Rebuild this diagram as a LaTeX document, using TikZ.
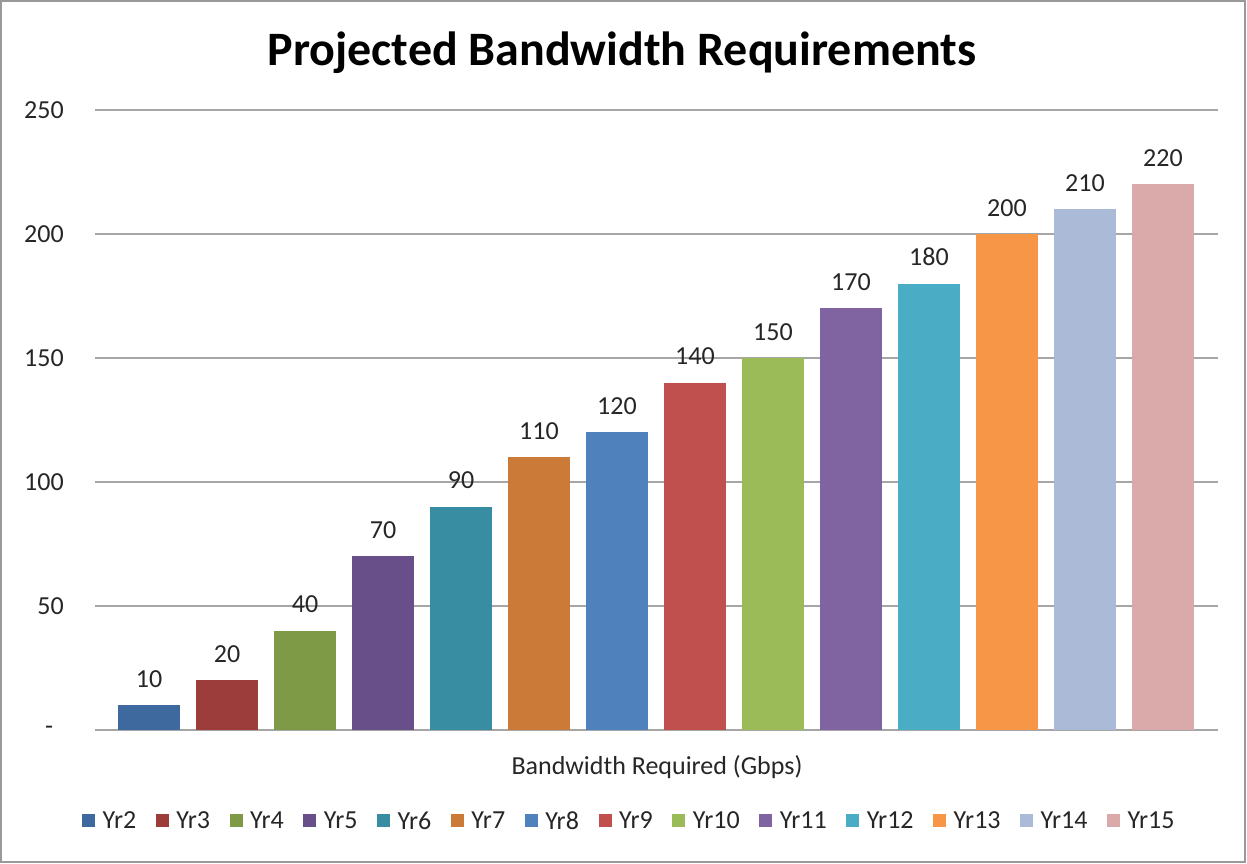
\documentclass[tikz,border=0pt]{standalone}
\usepackage{fontspec}
\setmainfont{Carlito}
\usetikzlibrary{positioning}

\definecolor{yr2}{HTML}{3D699E}
\definecolor{yr3}{HTML}{9D3D3B}
\definecolor{yr4}{HTML}{7E9A47}
\definecolor{yr5}{HTML}{694F89}
\definecolor{yr6}{HTML}{398DA3}
\definecolor{yr7}{HTML}{CC7A37}
\definecolor{yr8}{HTML}{4F81BD}
\definecolor{yr9}{HTML}{C0504D}
\definecolor{yr10}{HTML}{9BBB59}
\definecolor{yr11}{HTML}{8064A2}
\definecolor{yr12}{HTML}{4BACC6}
\definecolor{yr13}{HTML}{F79646}
\definecolor{yr14}{HTML}{AABAD7}
\definecolor{yr15}{HTML}{D9AAA9}

\begin{document}
\begin{tikzpicture}[
  x=0.75pt, y=-0.75pt,
  node distance=5.25pt and 14.25pt,
  every node/.style={font=\fontsize{19.5}{22}\selectfont, text=black!85, inner sep=0pt},
  gridline/.style={draw=black!35, line width=1.2pt},
  barval/.style={anchor=base},
  key/.style={minimum size=9.75pt, inner sep=0pt},
]
\useasboundingbox (0,0) rectangle (1247,864);
\draw[draw=black!40, line width=1.5pt] (1,1) rectangle (1245,862);

% Title
\node[font=\bfseries\fontsize{36}{40}\selectfont, text=black, anchor=base] (title) at (622,65)
  {Projected Bandwidth Requirements};

% Grid and value axis
\foreach \v in {50,100,...,250}
  \draw[gridline] (95,730-2.48*\v) -- (1218,730-2.48*\v);
\foreach \v in {50,100,...,250}
  \node[anchor=east] (tick\v) at (64,730-2.48*\v) {\v};
\draw[gridline] (95,730) -- (1218,730);
\node (tick0) at (49,730) {-};

% Bars
\foreach \val [count=\i from 2] in {10,20,40,70,90,110,120,140,150,170,180,200,210,220} {
  \fill[yr\i] (149+78*\i-156-31,730) rectangle (149+78*\i-156+31,730-2.48*\val);
  \node[barval] (val\i) at (149+78*\i-156,730-2.48*\val-18) {\val};
}

% Axis title
\node (xtitle) at (657,767) {Bandwidth Required (Gbps)};

% Legend
\node[key, fill=yr2] (key2) at (88.5,820.5) {};
\node[right=5.25pt of key2] (lab2) {Yr2};
\foreach \i [evaluate=\i as \j using int(\i-1)] in {3,...,15} {
  \node[key, fill=yr\i, right=of lab\j] (key\i) {};
  \node[right=5.25pt of key\i] (lab\i) {Yr\i};
}
\end{tikzpicture}
\end{document}
